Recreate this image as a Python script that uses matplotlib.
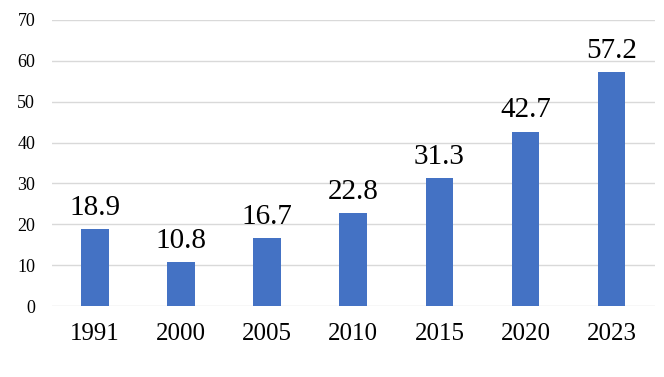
import matplotlib
matplotlib.use("Agg")
import matplotlib.pyplot as plt

years = ["1991", "2000", "2005", "2010", "2015", "2020", "2023"]
values = [18.9, 10.8, 16.7, 22.8, 31.3, 42.7, 57.2]
y_ticks = [0, 10, 20, 30, 40, 50, 60, 70]

plt.rcParams["font.family"] = ["Liberation Serif", "DejaVu Serif"]

fig = plt.figure(figsize=(6.64, 3.77), dpi=100)
ax = fig.add_axes([0.078, 0.188, 0.908, 0.759])

x = range(len(years))
bars = ax.bar(x, values, width=0.32, color="#4472c4", zorder=3)

for xi, v in zip(x, values):
    ax.annotate(f"{v}", (xi, v), xytext=(0, 6), textcoords="offset points",
                ha="center", va="bottom", fontsize=21, color="black")

ax.set_xlim(-0.5, len(years) - 0.5)
ax.set_ylim(0, 70)
ax.set_yticks(y_ticks)
ax.set_xticks(list(x))
ax.set_xticklabels(years, fontsize=18)
ax.tick_params(axis="y", labelsize=13, length=0, pad=12)
ax.tick_params(axis="x", length=0, pad=12)
ax.grid(axis="y", color="#d9d9d9", linewidth=1, zorder=0)
for side in ["top", "right", "left", "bottom"]:
    ax.spines[side].set_visible(False)

fig.savefig("out.png", dpi=100)
